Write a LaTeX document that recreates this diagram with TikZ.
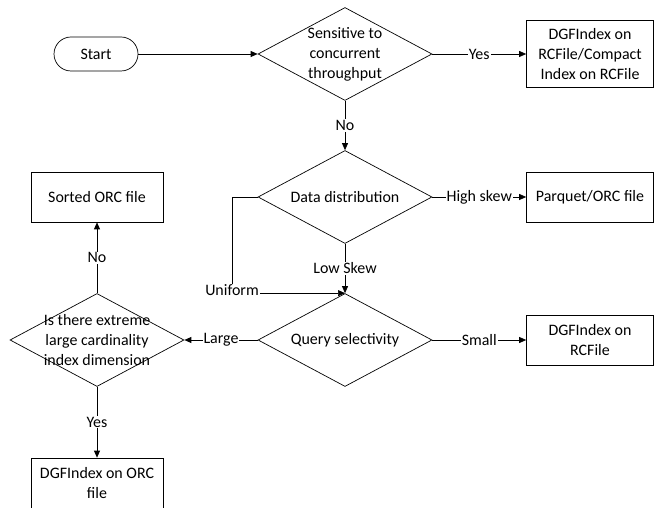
\documentclass[tikz,border=0pt]{standalone}
\usepackage{fontspec}
\setmainfont{Carlito}
\usepackage{tikz}
\usetikzlibrary{shapes.geometric,arrows.meta}
\tikzstyle{flowline} = [draw=black, line width=0.7pt, -{Triangle[length=7pt,width=6pt]}]
\tikzstyle{decision} = [draw=black, line width=0.7pt, diamond, minimum width=174bp,
    minimum height=93bp, inner sep=-22bp, align=center]
\tikzstyle{outcome} = [draw=black, line width=0.7pt, rectangle, minimum width=127bp,
    minimum height=50bp, inner sep=2pt, align=center]
\tikzstyle{terminal} = [draw=black, line width=0.7pt, rectangle, rounded corners=17bp,
    minimum width=84bp, minimum height=34bp]
\tikzstyle{choice} = [fill=white, inner sep=1pt]

\begin{document}
\begin{tikzpicture}[x=1bp, y=-1bp, font=\fontsize{16}{20}\selectfont]
\useasboundingbox (0,0) rectangle (654,508);
\node [terminal] (start) at (96,54) {Start};
\node [decision] (conc) at (345,54) {Sensitive to\\concurrent\\throughput};
\node [outcome, minimum height=67bp] (compact) at (590,54) {DGFIndex on\\RCFile/Compact\\Index on RCFile};
\node [decision] (distr) at (345,197) {Data distribution};
\node [outcome] (parquet) at (590,197) {Parquet/ORC file};
\node [decision] (select) at (345,340) {Query selectivity};
\node [outcome] (dgfrc) at (590,340) {DGFIndex on\\RCFile};
\node [decision] (card) at (97,340) {Is there extreme\\large cardinality\\index dimension};
\node [outcome, minimum width=132bp] (sorted) at (97,197) {Sorted ORC file};
\node [outcome, minimum width=132bp] (dgforc) at (97,483) {DGFIndex on ORC\\file};
\coordinate (ubend) at (232,197);

\draw [flowline] (start) -- (conc);
\draw [flowline] (conc) -- node[choice]{Yes} (compact);
\draw [flowline] (conc) -- node[choice]{No} (distr);
\draw [flowline] (distr) -- node[choice]{High skew} (parquet);
\draw [flowline] (distr) -- node[choice]{Low Skew} (select);
\draw [flowline] (distr.west) -- (ubend) |- node[choice, yshift=3bp]{Uniform} (select.north);
\draw [flowline] (select) -- node[choice]{Small} (dgfrc);
\draw [flowline] (select) -- node[choice]{Large} (card);
\draw [flowline] (card) -- node[choice]{No} (sorted);
\draw [flowline] (card) -- node[choice]{Yes} (dgforc);
\end{tikzpicture}
\end{document}
